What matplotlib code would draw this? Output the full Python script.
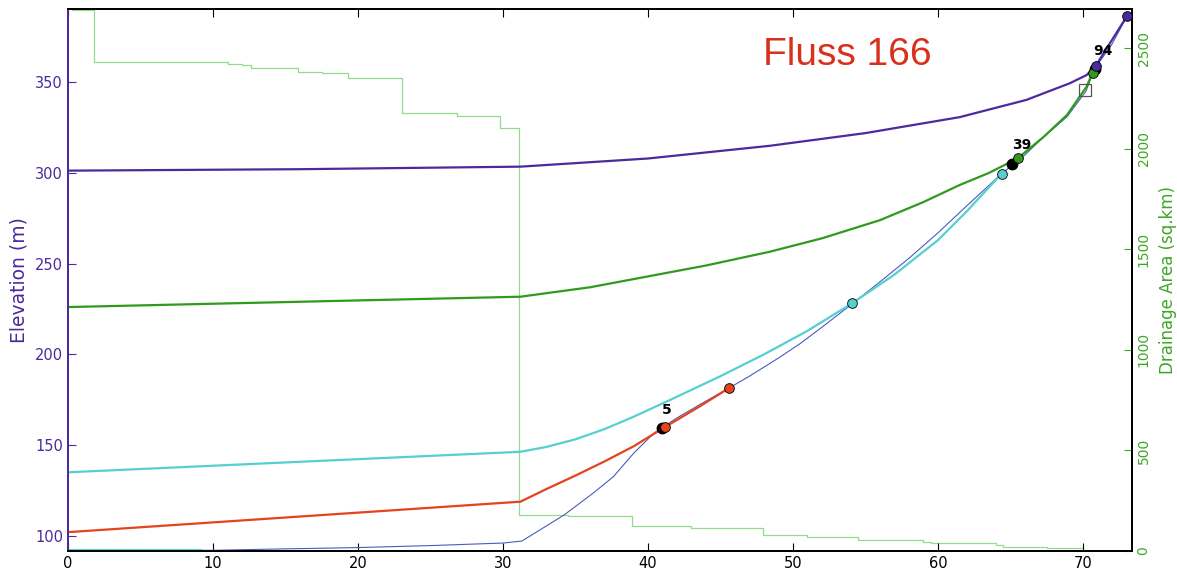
import matplotlib.pyplot as plt

# thin long profile of the river (distance km, elevation m)
profile_km = [0, 5, 10, 15, 20, 25, 30, 31.3, 32.5, 34.2, 36.2, 37.6, 39.0, 40.4, 40.9,
              42, 43.5, 45.6, 47, 49, 50.5, 52, 54.1, 56, 58, 60, 62, 64.4, 66, 67.3,
              68.9, 70.2, 70.8, 72, 73.06]
profile_elev = [91.8, 91.9, 92.0, 92.8, 93.5, 94.6, 96.0, 97.1, 103, 111.4, 123.4, 132.5,
                145.4, 156.5, 159.2, 165, 172, 181.5, 188, 198, 206, 215, 228, 240, 253,
                267, 282, 299.7, 310, 320, 331, 345, 357.4, 371, 386.8]

# fitted segments
red_km = [0, 31.2, 33, 35, 37, 39, 41.2, 43.5, 45.6]
red_elev = [102, 118.8, 125.8, 133.2, 141, 149.3, 160.1, 171, 181.5]

cyan_km = [0, 31.2, 33, 35, 37, 39, 41.5, 45, 48, 51, 54.1, 57, 60, 62, 64.4]
cyan_elev = [135, 146.3, 149, 153.2, 158.8, 165.6, 174.8, 188, 200, 213, 228.3, 244, 263,
             279, 299.7]

green_km = [0, 31.2, 36, 40, 44, 48.4, 52, 56, 59, 61.5, 63.5, 65.5, 67.3, 68.9, 70.25, 70.67]
green_elev = [226.1, 231.8, 237, 243, 249, 256.6, 264, 274, 284, 293.4, 300, 308.1, 320,
              332, 347.6, 355.4]

purple_km = [0, 16, 31.2, 40, 48.4, 55, 61.5, 66.1, 69.1, 70.25, 70.88, 73.06]
purple_elev = [301.3, 302.1, 303.5, 308, 315, 322, 330.8, 340.3, 349.5, 354, 359.1, 386.8]

# short cyan bit at the bottom left
cyan_low_km = [0, 9.2]
cyan_low_elev = [92.6, 92.6]

# drainage area (step line, right axis)
area_km = [0.3, 1.8, 11.0, 12.0, 12.6, 15.84, 17.5, 19.33, 23.06, 26.81, 29.79, 31.12,
           34.5, 38.87, 43.0, 47.95, 51.0, 54.5, 59.0, 59.5, 64.0, 64.5, 67.5, 70.0]
area_sqkm = [2688, 2430, 2423, 2415, 2399, 2381, 2374, 2349, 2177, 2164, 2101, 179,
             172, 126, 115, 80, 71, 55, 46, 38, 30, 21, 13, 10]

# knickpoint markers
black_km = [40.94, 65.1, 70.8]
black_elev = [159.2, 304.8, 357.4]
red_pts_km = [41.2, 45.6]
red_pts_elev = [160.1, 181.5]
cyan_pts_km = [54.1, 64.4]
cyan_pts_elev = [228.3, 299.7]
green_pts_km = [65.5, 70.67]
green_pts_elev = [308.1, 355.4]
purple_pts_km = [70.88, 73.06]
purple_pts_elev = [359.1, 386.8]
square_km = [70.14]
square_elev = [345.8]
label_text = ["5", "39", "94"]
label_km = [41.3, 65.8, 71.4]
label_elev = [165.5, 311.5, 363.5]

c_purple = "#4b2a9e"
c_green = "#2f9a1c"
c_cyan = "#55cfcf"
c_red = "#e6421c"
c_blue = "#4a5cbf"
c_lightgreen = "#92dc8c"
c_axis_green = "#3da626"

fig = plt.figure(figsize=(11.77, 5.75), dpi=100)
ax = fig.add_axes([0.0578, 0.0417, 0.9037, 0.9426])
ax2 = ax.twinx()
ax.set_zorder(2)
ax.patch.set_visible(False)
ax2.set_zorder(1)

ax2.step(area_km, area_sqkm, where="post", color=c_lightgreen, lw=0.9)
ax2.set_ylim(0, 2694)
ax2.set_yticks([0, 500, 1000, 1500, 2000, 2500])
ax2.tick_params(axis="y", direction="in", length=6, colors=c_axis_green, labelsize=10,
                labelrotation=90)
for lab in ax2.get_yticklabels():
    lab.set_va("center")
ax2.set_ylabel("Drainage Area (sq.km)", color=c_axis_green, fontsize=12, labelpad=6)

ax.plot(profile_km, profile_elev, color=c_blue, lw=0.8)
ax.plot(cyan_low_km, cyan_low_elev, color=c_cyan, lw=0.8)
ax.plot(red_km, red_elev, color=c_red, lw=1.6)
ax.plot(cyan_km, cyan_elev, color=c_cyan, lw=1.6)
ax.plot(green_km, green_elev, color=c_green, lw=1.6)
ax.plot(purple_km, purple_elev, color=c_purple, lw=1.6)

ax.plot(black_km, black_elev, "o", color="black", ms=7.5, zorder=4)
ax.plot(red_pts_km, red_pts_elev, "o", mfc=c_red, mec="black", mew=0.6, ms=7, zorder=5)
ax.plot(cyan_pts_km, cyan_pts_elev, "o", mfc=c_cyan, mec="black", mew=0.6, ms=7, zorder=5)
ax.plot(green_pts_km, green_pts_elev, "o", mfc=c_green, mec="black", mew=0.6, ms=7, zorder=5)
ax.plot(purple_pts_km, purple_pts_elev, "o", mfc=c_purple, mec="black", mew=0.6, ms=7, zorder=6)
ax.plot(square_km, square_elev, "s", mfc="none", mec="#555555", mew=0.9, ms=8, zorder=5)
for t, xk, ye in zip(label_text, label_km, label_elev):
    ax.text(xk, ye, t, fontsize=10, fontweight="bold", ha="center", va="bottom", zorder=7)

ax.set_xlim(0, 73.36)
ax.set_ylim(91.6, 390.4)
ax.set_xticks(range(0, 71, 10))
ax.set_yticks(range(100, 351, 50))
ax.tick_params(axis="x", direction="in", length=6, top=True, labelsize=10.5)
ax.tick_params(axis="y", direction="in", length=6, colors=c_purple, labelsize=10.5)
ax.set_ylabel("Elevation (m)", color=c_purple, fontsize=13.5, labelpad=5)
ax.spines["left"].set_color(c_purple)
ax2.spines["left"].set_color(c_purple)
for s in ["bottom", "top", "right", "left"]:
    ax.spines[s].set_linewidth(1.3)
    ax2.spines[s].set_linewidth(1.3)

ax.text(0.733, 0.915, "Fluss 166", transform=ax.transAxes, fontsize=28,
        family="Liberation Sans", color="#d8301c", ha="center", va="center")

fig.savefig("out.png", dpi=100)
